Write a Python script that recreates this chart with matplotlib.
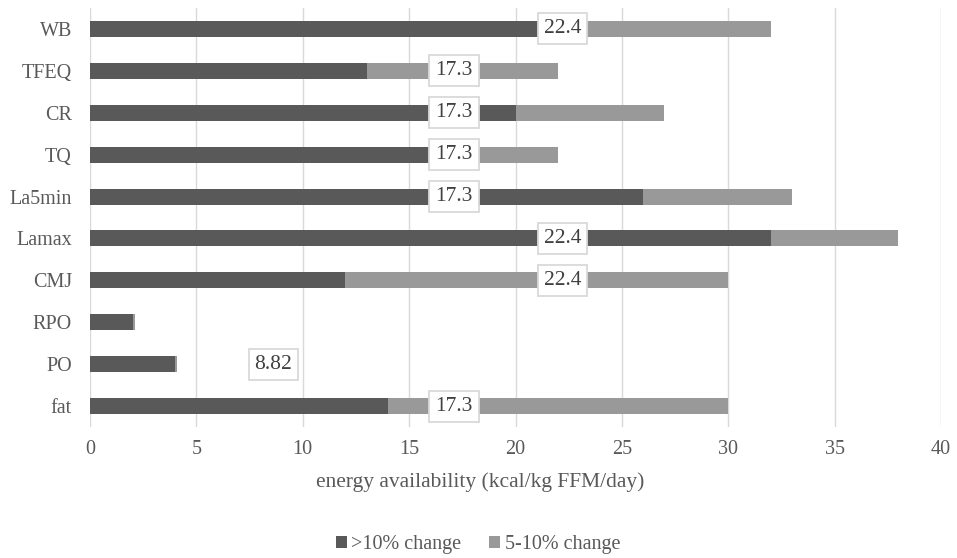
import matplotlib.pyplot as plt
from matplotlib.patches import Patch

# datos (de abajo hacia arriba)
categorias = ['fat', 'PO', 'RPO', 'CMJ', 'Lamax', 'La5min', 'TQ', 'CR', 'TFEQ', 'WB']
mas_10 = [14, 4, 2, 12, 32, 26, 17, 20, 13, 22]
entre_5_10 = [16, 0.1, 0.1, 18, 6, 7, 5, 7, 9, 10]
etiquetas_ea = [17.3, 8.82, None, 22.4, 22.4, 17.3, 17.3, 17.3, 17.3, 22.4]

oscuro = '#595959'
claro = '#999999'
texto = '#595959'

plt.rcParams['font.family'] = ['Liberation Serif', 'DejaVu Serif']

fig = plt.figure(figsize=(9.57, 5.58), dpi=100)
ax = fig.add_axes([90 / 957, 1 - 427 / 558, (941 - 90) / 957, (427 - 8) / 558])

y = range(len(categorias))
ax.barh(y, mas_10, height=0.38, color=oscuro, label='>10% change')
ax.barh(y, entre_5_10, left=mas_10, height=0.38, color=claro, label='5-10% change')

# etiquetas con recuadro en el valor de disponibilidad energetica
for i, valor in enumerate(etiquetas_ea):
    if valor is None:
        continue
    ax.annotate(f'{valor:g}', (valor, i), xytext=(-3, 0), textcoords='offset points',
                ha='center', va='center', fontsize=15.5, color='#404040',
                bbox=dict(boxstyle='square,pad=0.28', facecolor='white', edgecolor='#d9d9d9', linewidth=1.3))

ax.set_xlim(0, 40)
ax.set_ylim(-0.5, len(categorias) - 0.5)
ax.set_xticks(range(0, 41, 5))
ax.set_yticks(list(y))
ax.set_yticklabels(categorias)
ax.tick_params(axis='both', length=0, labelsize=14.5, labelcolor=texto)
ax.tick_params(axis='x', pad=9)
ax.tick_params(axis='y', pad=13)
ax.grid(axis='x', color='#d9d9d9', linewidth=1)
ax.set_axisbelow(True)
for s in ax.spines.values():
    s.set_visible(False)

# el titulo del eje va centrado en el grafico, no en el area de trazado
ax.set_xlabel('energy availability (kcal/kg FFM/day)', fontsize=15.5, color=texto)
ax.xaxis.set_label_coords((480 - 90) / 851, -0.108)

manijas = [Patch(facecolor=oscuro), Patch(facecolor=claro)]
fig.legend(manijas, ['>10% change', '5-10% change'], loc='center', bbox_to_anchor=(478 / 957, 1 - 545 / 558),
           ncol=2, frameon=False, fontsize=14.5, labelcolor=texto, handlelength=0.55, handleheight=0.55,
           handletextpad=0.2, columnspacing=1.4)

fig.savefig('out.png', dpi=100)
